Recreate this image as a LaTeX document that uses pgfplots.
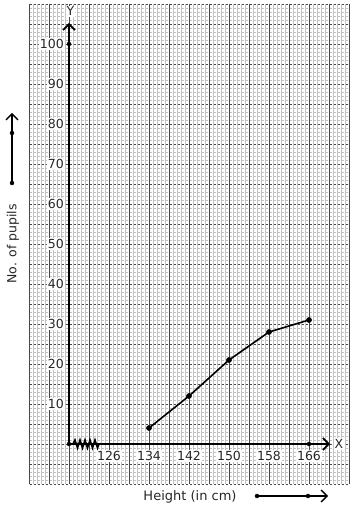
\documentclass[border=0pt]{standalone}
\usepackage{fontspec}
\setmainfont{DejaVu Sans}
\usepackage{pgfplots}
\pgfplotsset{compat=1.18}
\usetikzlibrary{arrows.meta}
\begin{document}
\begin{tikzpicture}
\useasboundingbox (-29pt,-26pt) rectangle (325pt,484pt);
\begin{axis}[
  at={(0,0)}, anchor=south west,
  scale only axis, width=320pt, height=480pt,
  xmin=110, xmax=174, ymin=-10, ymax=110,
  clip=false,
  axis line style={draw=none},
  tick style={draw=none},
  /pgf/number format/assume math mode=true,
  xtick={110,114,...,174}, xticklabels={},
  ytick={-10,-5,...,110}, yticklabels={},
  minor xtick={110,110.8,...,174.2},
  minor ytick={-10,-9,...,110},
  grid=both,
  minor grid style={black!24, line width=0.8pt},
  major grid style={black!72, line width=0.9pt},
  y grid style={dash pattern=on 2.8pt off 1.2pt, dash phase=3.4pt},
  tick label style={font=\fontsize{12.5}{14}\selectfont, text=black!85},
  extra x ticks={126,134,...,166},
  extra x tick style={grid=none, xticklabel={\pgfmathprintnumber{\tick}},
     xticklabel style={anchor=center, yshift=28pt, fill=white, inner sep=1pt}},
  extra y ticks={10,20,...,100},
  extra y tick style={grid=none, yticklabel={\pgfmathprintnumber{\tick}},
     yticklabel style={anchor=east, xshift=36pt, fill=white, inner sep=1pt}},
  xlabel={Height (in cm)},
  every axis x label/.style={at={(axis cs:142.2,-13.25)}, anchor=center, font=\fontsize{13}{15}\selectfont, text=black!85},
  ylabel={No. of pupils},
  every axis y label/.style={at={(axis cs:106.8,50)}, anchor=center, rotate=90, font=\fontsize{12.5}{15}\selectfont, text=black!85},
]
% ogive
\addplot[black, line width=1.6pt, mark=*, mark size=2pt] coordinates {(134,4) (142,12) (150,21) (158,28) (166,31)};
% axes
\addplot[black, line width=2pt, -{Straight Barb[length=6pt,width=12pt,line width=1.6pt]}] coordinates {(118,0) (170.2,0)};
\addplot[black, line width=2pt, -{Straight Barb[length=6pt,width=12pt,line width=1.6pt]}] coordinates {(118,0) (118,105.25)};
% zigzag (axis break)
\addplot[black, line width=1.6pt] coordinates {(118.8,0) (119.2,1) (119.7,-1) (120.2,1) (120.7,-1) (121.2,1) (121.7,-1) (122.2,1) (122.7,-1) (123.2,1) (123.7,-1) (124,0)};
\addplot[only marks, black, mark=*, mark size=2pt] coordinates {(118,0) (166,0) (118,100)};
% direction arrows
\addplot[black, line width=1.6pt, -{Straight Barb[length=6pt,width=12pt,line width=1.4pt]}] coordinates {(106.6,65.25) (106.6,82.75)};
\addplot[only marks, black, mark=*, mark size=2pt] coordinates {(106.6,65.25) (106.6,77.75)};
\addplot[black, line width=1.6pt, -{Straight Barb[length=6pt,width=12pt,line width=1.4pt]}] coordinates {(155.6,-13) (169.8,-13)};
\addplot[only marks, black, mark=*, mark size=2pt] coordinates {(155.6,-13) (165.8,-13)};
\node[fill=white, inner sep=1pt, font=\fontsize{12.5}{14}\selectfont, text=black!85] at (axis cs:118.3,108.2) {Y};
\node[fill=white, inner sep=1pt, font=\fontsize{12.5}{14}\selectfont, text=black!85] at (axis cs:172,0) {X};
\end{axis}
\end{tikzpicture}
\end{document}
